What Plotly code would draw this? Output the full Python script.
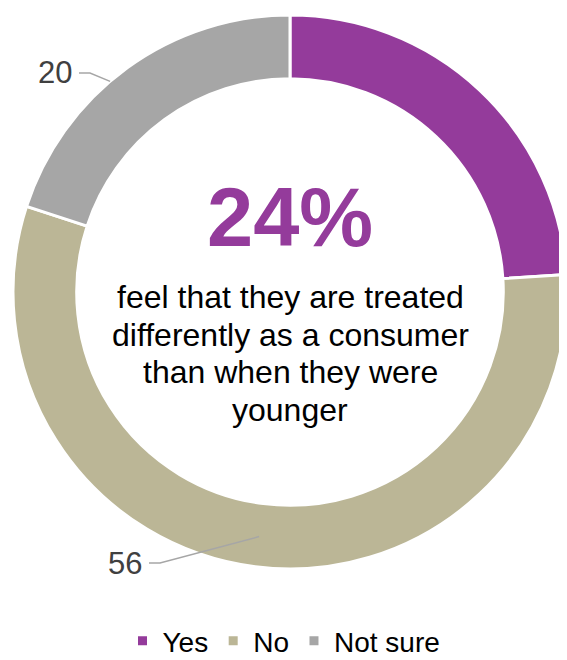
import math
import plotly.graph_objects as go

# Survey answers (percent)
labels = ["Yes", "No", "Not sure"]
values = [24, 56, 20]
shown_labels = ["", "56", "20"]  # the Yes slice is called out in the centre instead
headline = "24%"
sub_lines = ["feel that they are treated",
             "differently as a consumer",
             "than when they were",
             "younger"]

COLORS = ["#943B9B", "#BBB696", "#A6A6A6"]
FONT = "Liberation Sans, Arial, sans-serif"

# the page body adds an 8px margin, so the figure is a bit smaller than the window
OFF = 8
W, H = 567 - OFF, 660 - OFF
# donut geometry in window pixels
CX, CY, R = 290, 292, 277


def px(x):
    return (x - OFF) / W


def py(y):
    return 1 - (y - OFF) / H


fig = go.Figure(go.Pie(
    labels=labels,
    values=values,
    hole=0.77,
    sort=False,
    direction="clockwise",
    rotation=0,
    textinfo="none",
    hoverinfo="label+value",
    marker=dict(colors=COLORS, line=dict(color="white", width=3)),
    domain=dict(x=[px(CX - R), 1], y=[py(CY + R), py(CY - R)]),
))

# centre call-out
annotations = [dict(text=f"<b>{headline}</b>", x=px(CX), y=py(218), xref="paper", yref="paper",
                    showarrow=False, font=dict(family=FONT, size=83, color=COLORS[0]),
                    xanchor="center", yanchor="middle")]
for i, line in enumerate(sub_lines):
    annotations.append(dict(text=line, x=px(CX), y=py(297 + i * 37.5), xref="paper", yref="paper",
                            showarrow=False, font=dict(family=FONT, size=32, color="#000000"),
                            xanchor="center", yanchor="middle"))

# outside data labels with leader lines, anchored near each slice's mid angle
shapes = []
total = sum(values)
start = 0
# label centre (x, y), leader end radius factor, angle nudge in degrees
label_pos = {"56": (125, 563, 0.89, 0), "20": (55, 73, 1.0, -4.5)}
for v, lab in zip(values, shown_labels):
    mid = (start + v / 2) / total * 2 * math.pi
    start += v
    if not lab:
        continue
    tx, ty, rf, nudge = label_pos[lab]
    ang = mid + math.radians(nudge)
    ex = CX + math.sin(ang) * R * rf
    ey = CY - math.cos(ang) * R * rf
    annotations.append(dict(text=lab, x=px(tx), y=py(ty), xref="paper", yref="paper",
                            showarrow=False, font=dict(family=FONT, size=31, color="#404040"),
                            xanchor="center", yanchor="middle"))
    x0 = tx + 24
    x1 = x0 + 11
    path = f"M {px(x0)},{py(ty)} L {px(x1)},{py(ty)} L {px(ex)},{py(ey)}"
    shapes.append(dict(type="path", path=path, xref="paper", yref="paper",
                       line=dict(color="#A6A6A6", width=1.5)))

fig.update_layout(
    width=W,
    height=H,
    paper_bgcolor="white",
    plot_bgcolor="white",
    margin=dict(l=0, r=0, t=0, b=0, autoexpand=False),
    font=dict(family=FONT, color="#000000"),
    annotations=annotations,
    shapes=shapes,
    showlegend=True,
    legend=dict(
        orientation="h",
        xanchor="center",
        x=px(284),
        yanchor="middle",
        y=py(641),
        font=dict(family=FONT, size=28, color="#000000"),
        bgcolor="rgba(0,0,0,0)",
        traceorder="normal",
    ),
)

fig.write_html("out.html")
